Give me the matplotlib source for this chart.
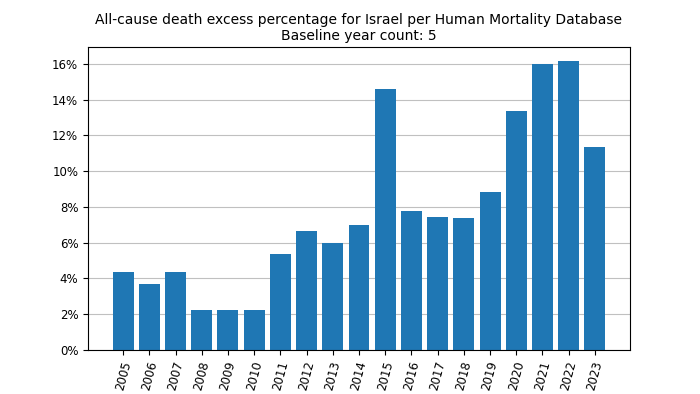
import matplotlib
matplotlib.use("Agg")
import matplotlib.pyplot as plt
from matplotlib.ticker import PercentFormatter

# all-cause death excess (%) for Israel, baseline of 5 years
years = ["2005", "2006", "2007", "2008", "2009", "2010", "2011", "2012", "2013", "2014",
         "2015", "2016", "2017", "2018", "2019", "2020", "2021", "2022", "2023"]
excess_pct = [4.37, 3.68, 4.37, 2.22, 2.24, 2.24, 5.37, 6.64, 5.97, 6.98,
              14.59, 7.78, 7.44, 7.37, 8.86, 13.38, 15.97, 16.14, 11.36]

fig = plt.figure(figsize=(7, 3.94), dpi=100)
ax = fig.add_axes([0.1257, 0.1117, 0.7743, 0.769])

ax.bar(years, excess_pct, width=0.8, color="#1f77b4", zorder=2)
ax.yaxis.set_major_formatter(PercentFormatter(decimals=0))
ax.grid(axis="y", color="#c0c0c0", linewidth=0.8, zorder=0)
ax.tick_params(labelsize=8.5)
plt.setp(ax.get_xticklabels(), rotation=75)
ax.set_title("All-cause death excess percentage for Israel per Human Mortality Database\n"
             "Baseline year count: 5", fontsize=10, pad=5)

fig.savefig("out.png", dpi=100)
